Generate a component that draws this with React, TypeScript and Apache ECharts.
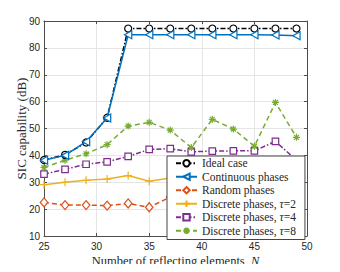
import React, { useEffect, useRef } from "react";
import * as echarts from "echarts";

const nValues = [25, 27, 29, 31, 33, 35, 37, 39, 41, 43, 45, 47, 49];
const idealCase = [38.3, 40.2, 44.8, 54.0, 87.2, 87.2, 87.2, 87.2, 87.2, 87.2, 87.2, 87.2, 87.2];
const continuousPhases = [38.2, 40.0, 45.1, 53.9, 84.9, 84.9, 84.9, 84.9, 84.9, 84.9, 84.9, 84.8, 84.5];
const randomPhases = [22.5, 21.5, 21.5, 21.3, 22.1, 20.7, 24.5, 25.0, 24.6, 25.2, 24.8, 25.4, 25.0];
const discreteTau2 = [29.1, 30.0, 30.7, 31.2, 32.5, 30.4, 31.6, 31.8, 31.3, 31.7, 31.5, 31.9, 31.6];
const discreteTau4 = [33.0, 34.8, 36.7, 37.6, 39.6, 42.2, 42.5, 41.3, 41.6, 41.7, 41.7, 45.2, 38.2];
const discreteTau8 = [35.5, 38.2, 40.6, 44.0, 50.9, 52.3, 49.4, 42.9, 53.4, 49.8, 43.4, 59.7, 46.7];
const xTicks = [25, 30, 35, 40, 45, 50];
const yTicks = [10, 20, 30, 40, 50, 60, 70, 80, 90];
const seriesNames = [
  "Ideal case",
  "Continuous phases",
  "Random phases",
  "Discrete phases, τ=2",
  "Discrete phases, τ=4",
  "Discrete phases, τ=8",
];

const pair = (ys: number[]) => nValues.map((n, i) => [n, ys[i]]);

export default function App() {
  const ref = useRef<HTMLDivElement>(null);
  useEffect(() => {
    if (!ref.current) return;
    const chart = echarts.init(ref.current, undefined, { renderer: "svg" });
    const serif = "'Liberation Serif', 'Times New Roman', Times, serif";
    const sans = "'Liberation Sans', Arial, Helvetica, sans-serif";
    const axisColor = "#4d4d4d";
    const mk = (
      name: string,
      data: number[],
      color: string,
      symbol: string,
      lineType: any,
      symbolSize: number,
      filled = false,
      z = 2
    ) => ({
      name,
      type: "line",
      data: pair(data),
      symbol,
      symbolSize,
      symbolKeepAspect: true,
      showSymbol: true,
      z,
      color,
      lineStyle: { color, width: 1.5, type: lineType },
      itemStyle: {
        color: filled ? color : "#ffffff",
        borderColor: color,
        borderWidth: 1.2,
      },
      emphasis: { disabled: true },
    });
    chart.setOption({
      animation: false,
      grid: { left: 44, right: 33, top: 21, bottom: 30, show: false },
      xAxis: [
        {
          type: "value",
          min: xTicks[0],
          max: xTicks[xTicks.length - 1],
          interval: 5,
          name: "Number of reflecting elements  {i|N}",
          nameLocation: "middle",
          nameGap: 18,
          nameMoveOverlap: false,
          nameTextStyle: {
            fontFamily: serif,
            fontSize: 12.5,
            lineHeight: 13,
            color: "#262626",
            rich: { i: { fontFamily: serif, fontStyle: "italic", fontSize: 12.5, lineHeight: 13, color: "#262626" } },
          },
          axisLine: { show: true, onZero: false, lineStyle: { color: axisColor, width: 1 } },
          axisTick: { show: true, inside: true, length: 3, lineStyle: { color: axisColor } },
          axisLabel: { fontFamily: sans, fontSize: 10, lineHeight: 11, color: "#262626", margin: 5 },
          splitLine: { show: true, lineStyle: { color: "#e5e5e5", width: 1 } },
        },
        {
          type: "value",
          position: "top",
          min: xTicks[0],
          max: xTicks[xTicks.length - 1],
          interval: 5,
          axisLine: { show: true, onZero: false, lineStyle: { color: axisColor, width: 1 } },
          axisTick: { show: true, inside: true, length: 3, lineStyle: { color: axisColor } },
          axisLabel: { show: false },
          splitLine: { show: false },
        },
      ],
      yAxis: [
        {
          type: "value",
          min: yTicks[0],
          max: yTicks[yTicks.length - 1],
          interval: 10,
          name: "SIC capability (dB)",
          nameLocation: "middle",
          nameGap: 16,
          nameMoveOverlap: false,
          nameTextStyle: { fontFamily: serif, fontSize: 13, color: "#262626" },
          axisLine: { show: true, onZero: false, lineStyle: { color: axisColor, width: 1 } },
          axisTick: { show: true, inside: true, length: 3, lineStyle: { color: axisColor } },
          axisLabel: { fontFamily: sans, fontSize: 10, color: "#262626", margin: 4 },
          splitLine: { show: true, lineStyle: { color: "#e5e5e5", width: 1 } },
        },
        {
          type: "value",
          position: "right",
          min: yTicks[0],
          max: yTicks[yTicks.length - 1],
          interval: 10,
          axisLine: { show: true, onZero: false, lineStyle: { color: axisColor, width: 1 } },
          axisTick: { show: true, inside: true, length: 3, lineStyle: { color: axisColor } },
          axisLabel: { show: false },
          splitLine: { show: false },
        },
      ],
      legend: {
        data: seriesNames,
        orient: "vertical",
        left: 167,
        top: 156,
        padding: [0.5, 9, 2, 8],
        itemGap: 0,
        itemWidth: 21,
        itemHeight: 8,
        backgroundColor: "#ffffff",
        borderColor: "#444444",
        borderWidth: 1,
        borderRadius: 0,
        formatter: (name: string) => name.replace("τ", "{i|τ}"),
        textStyle: {
          fontFamily: serif,
          fontSize: 11.5,
          lineHeight: 13.5,
          color: "#262626",
          rich: {
            i: { fontFamily: serif, fontStyle: "italic", fontSize: 11.5, lineHeight: 13.5, color: "#262626" },
          },
        },
      },
      series: [
        mk(seriesNames[0], idealCase, "#000000", "circle", [5, 2, 1.5, 2], 7, false, 3),
        mk(seriesNames[1], continuousPhases, "#0072BD", "path://M0,5L9,0L9,10Z", "solid", 8, false, 4),
        mk(seriesNames[2], randomPhases, "#D95319", "path://M5,0L10,6L5,12L0,6Z", [5, 3], 9),
        mk(seriesNames[3], discreteTau2, "#EDB120", "path://M0,5L10,5M5,0L5,10", "solid", 8, true),
        mk(seriesNames[4], discreteTau4, "#7E2F8E", "rect", [5, 2, 1.5, 2], 6.5),
        mk(
          seriesNames[5],
          discreteTau8,
          "#77AC30",
          "path://M0,5L10,5M5,0L5,10M1.5,1.5L8.5,8.5M8.5,1.5L1.5,8.5",
          [5, 3.5],
          7,
          true
        ),
      ],
    });
    return () => chart.dispose();
  }, []);
  return <div ref={ref} style={{ width: 340, height: 272, margin: -8 }} />;
}
